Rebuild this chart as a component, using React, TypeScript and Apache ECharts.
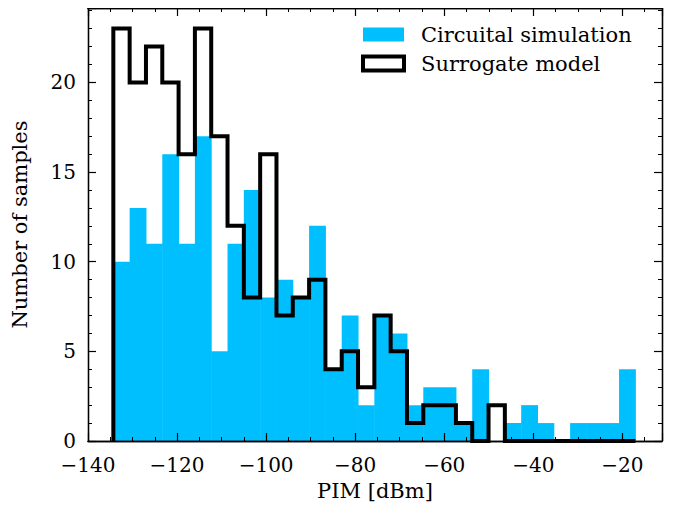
import React, { useEffect, useRef } from "react";
import * as echarts from "echarts";

// Histogram bins (PIM in dBm)
const binStart = -134.31;
const binWidth = 3.6634;
const circuitCounts = [10, 13, 11, 16, 11, 17, 5, 11, 14, 8, 9, 8, 12, 4, 7, 2, 7, 6, 2, 3, 3, 1, 4, 0, 1, 2, 1, 0, 1, 1, 1, 4];
const surrogateCounts = [23, 20, 22, 20, 16, 23, 17, 12, 8, 16, 7, 8, 9, 4, 5, 3, 7, 5, 1, 2, 2, 1, 0, 2, 0, 0, 0, 0, 0, 0, 0, 0];
const seriesNames = ["Circuital simulation", "Surrogate model"];
const xTitle = "PIM [dBm]";
const yTitle = "Number of samples";

const X_MIN = -140;
const X_MAX = -11.1;
const Y_MIN = 0;
const Y_MAX = 24.15;

const FONT = "DejaVu Serif";
const FS = 21;
const TICK_FS = 20;
const CYAN = "#00BFFF";

function fmtNum(v: number): string {
  const r = Math.round(v);
  return r < 0 ? "\u2212" + Math.abs(r) : String(r);
}

export default function App() {
  const ref = useRef<HTMLDivElement>(null);
  useEffect(() => {
    if (!ref.current) return;
    const chart = echarts.init(ref.current, undefined, { renderer: "svg" });
    const edges = circuitCounts.map((_, i) => binStart + i * binWidth).concat([binStart + circuitCounts.length * binWidth]);
    const barData = circuitCounts.map((c, i) => [edges[i], edges[i + 1], c]);
    const stepData: number[][] = [[edges[0], 0]];
    surrogateCounts.forEach((c, i) => {
      stepData.push([edges[i], c]);
      stepData.push([edges[i + 1], c]);
    });
    stepData.push([edges[edges.length - 1], 0]);

    const lineStyle = { color: "#000", width: 1.3 };
    const majorTick = { show: true, inside: true, length: 8, lineStyle: { color: "#000", width: 1.2 } };
    const minorTick = { show: true, inside: true, length: 4, lineStyle: { color: "#000", width: 1 } };
    const baseX = { type: "value", min: X_MIN, max: X_MAX, z: 10, splitLine: { show: false }, axisLine: { show: true, onZero: false, lineStyle } };
    const baseY = { type: "value", min: Y_MIN, max: Y_MAX, z: 10, splitLine: { show: false }, axisLine: { show: true, onZero: false, lineStyle } };

    chart.setOption({
      animation: false,
      grid: { left: 88, right: 18, top: 8, bottom: 69, containLabel: false },
      legend: {
        orient: "vertical",
        left: 361,
        top: 24,
        padding: 0,
        itemWidth: 41,
        itemHeight: 14,
        itemGap: 8,
        textStyle: { fontFamily: FONT, fontSize: FS, color: "#000", padding: [0, 0, 0, 12] },
        data: [
          { name: seriesNames[0], icon: "rect", itemStyle: { color: CYAN, borderWidth: 0 } },
          { name: seriesNames[1], icon: "rect", itemStyle: { color: "#fff", borderColor: "#000", borderWidth: 4 }, lineStyle: { width: 0 } },
        ],
      },
      xAxis: [
        {
          ...baseX,
          position: "bottom",
          interval: 20,
          axisTick: majorTick,
          axisLabel: {
            show: true,
            margin: 16,
            lineHeight: 15,
            fontFamily: FONT,
            fontSize: TICK_FS,
            color: "#000",
            formatter: (v: number) => (Math.abs(v % 20) < 1e-6 ? fmtNum(v) : ""),
          },
          name: xTitle,
          nameLocation: "middle",
          nameGap: 41,
          nameTextStyle: { fontFamily: FONT, fontSize: FS, color: "#000", lineHeight: 18 },
        },
        { ...baseX, position: "bottom", interval: 5, axisTick: minorTick, axisLabel: { show: false } },
        { ...baseX, position: "top", interval: 20, axisTick: majorTick, axisLabel: { show: false } },
        { ...baseX, position: "top", interval: 5, axisTick: minorTick, axisLabel: { show: false } },
      ],
      yAxis: [
        {
          ...baseY,
          position: "left",
          interval: 5,
          axisTick: majorTick,
          axisLabel: {
            show: true,
            margin: 12,
            lineHeight: 15,
            fontFamily: FONT,
            fontSize: TICK_FS,
            color: "#000",
            formatter: (v: number) => (Math.abs(v % 5) < 1e-6 ? fmtNum(v) : ""),
          },
          name: yTitle,
          nameLocation: "middle",
          nameGap: 58,
          nameTextStyle: { fontFamily: FONT, fontSize: FS, color: "#000" },
        },
        { ...baseY, position: "left", interval: 1, axisTick: minorTick, axisLabel: { show: false } },
        { ...baseY, position: "right", interval: 5, axisTick: majorTick, axisLabel: { show: false } },
        { ...baseY, position: "right", interval: 1, axisTick: minorTick, axisLabel: { show: false } },
      ],
      series: [
        {
          name: seriesNames[0],
          type: "custom",
          xAxisIndex: 0,
          yAxisIndex: 0,
          data: barData,
          encode: { x: [0, 1], y: 2 },
          itemStyle: { color: CYAN },
          renderItem: (params: any, api: any) => {
            const p0 = api.coord([api.value(0), api.value(2)]);
            const p1 = api.coord([api.value(1), 0]);
            return {
              type: "rect",
              shape: { x: p0[0], y: p0[1], width: p1[0] - p0[0] + 0.5, height: p1[1] - p0[1] },
              style: { fill: CYAN },
            };
          },
        },
        {
          name: seriesNames[1],
          type: "line",
          xAxisIndex: 0,
          yAxisIndex: 0,
          data: stepData,
          showSymbol: false,
          symbol: "none",
          itemStyle: { color: "#000" },
          lineStyle: { color: "#000", width: 4, join: "miter", cap: "butt" },
          z: 5,
        },
      ],
    });
    return () => chart.dispose();
  }, []);
  return <div ref={ref} style={{ width: 680, height: 510, margin: -8 }} />;
}
